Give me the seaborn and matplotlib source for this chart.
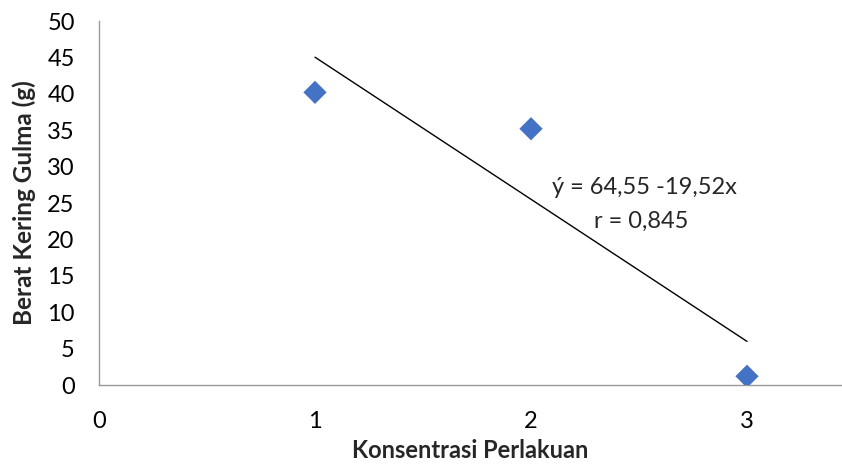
import matplotlib
matplotlib.use("Agg")
import matplotlib.pyplot as plt
import seaborn as sns
import pandas as pd
import numpy as np

# data
konsentrasi = [1, 2, 3]
berat_kering = [40.2, 35.2, 1.2]
intercept = 64.55
slope = -19.52
fit_x = [1, 3]
x_ticks = [0, 1, 2, 3]
y_ticks = [0, 5, 10, 15, 20, 25, 30, 35, 40, 45, 50]

sns.set_theme(style="white")
plt.rcParams['font.family'] = ['Lato', 'DejaVu Sans']

fig = plt.figure(figsize=(8.42, 4.72), dpi=100)
ax = fig.add_axes([99/842, 1-385/472, 1-99/842, (385-21)/472])

df = pd.DataFrame({"x": konsentrasi, "y": berat_kering})
fit_df = pd.DataFrame({"x": fit_x, "y": [intercept + slope * v for v in fit_x]})

sns.lineplot(data=fit_df, x="x", y="y", ax=ax, color="black", linewidth=1.0)
sns.scatterplot(data=df, x="x", y="y", ax=ax, marker="D", s=140, color="#4472C4",
                edgecolor="none", zorder=3)

ax.set_xlim(0, (842-99)/216)
ax.set_ylim(0, 50)
ax.set_xticks(x_ticks)
ax.set_yticks(y_ticks)
ax.tick_params(axis="both", labelsize=17, colors="#000000", length=6.5, width=1,
               direction="out")
ax.tick_params(axis="y", pad=11)
ax.tick_params(axis="x", pad=12)
for t in ax.get_xticklines() + ax.get_yticklines():
    t.set_color("#999999")

for s in ["top", "right"]:
    ax.spines[s].set_visible(False)
for s in ["left", "bottom"]:
    ax.spines[s].set_color("#999999")
    ax.spines[s].set_linewidth(1.0)

ax.set_xlabel("Konsentrasi Perlakuan", fontsize=17, fontweight="bold", labelpad=5)
ax.set_ylabel("Berat Kering Gulma (g)", fontsize=17.5, fontweight="bold", labelpad=8)

ax.text((644-99)/743, (385-188)/364, "ý = 64,55 -19,52x", transform=ax.transAxes,
        fontsize=17, ha="center", va="center")
ax.text((641-99)/743, (385-221)/364, "r = 0,845", transform=ax.transAxes,
        fontsize=17, ha="center", va="center")

fig.savefig("out.png", dpi=100)
